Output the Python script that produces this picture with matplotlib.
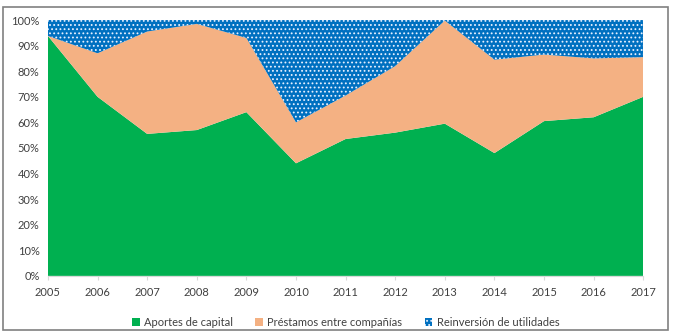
import matplotlib.pyplot as plt
import matplotlib.ticker as mticker
from matplotlib.patches import Rectangle
import numpy as np

# ── Data (share of total, %) ────────────────────────────────────────────────
years = [2005, 2006, 2007, 2008, 2009, 2010, 2011, 2012, 2013, 2014, 2015, 2016, 2017]
aportes = [93.8, 70.0, 55.5, 57.0, 64.0, 44.0, 53.5, 56.0, 59.5, 48.0, 60.5, 62.0, 70.0]
prestamos = [0.0, 17.0, 40.0, 41.5, 29.0, 16.0, 17.0, 26.0, 40.3, 36.5, 26.0, 23.0, 15.5]
reinversion = [6.2, 13.0, 4.5, 1.5, 7.0, 40.0, 29.5, 18.0, 0.2, 15.5, 13.5, 15.0, 14.5]

labels = ["Aportes de capital", "Préstamos entre compañías", "Reinversión de utilidades"]
COLORS = ["#00B050", "#F4B183", "#0070C0"]

plt.rcParams.update({"font.family": ["Lato", "DejaVu Sans"], "font.size": 8,
                     "hatch.linewidth": 0.8})

fig = plt.figure(figsize=(6.75, 3.34), dpi=100)
ax = fig.add_axes([0.071, 0.174, 0.882, 0.766])

base = np.zeros(len(years))
for i, (vals, lab, col) in enumerate(zip([aportes, prestamos, reinversion], labels, COLORS)):
    top = base + np.array(vals)
    if i == 2:
        ax.fill_between(years, base, top, facecolor=col, edgecolor="#E8F0FF",
                        hatch="....", linewidth=0, label=lab)
    else:
        ax.fill_between(years, base, top, facecolor=col, linewidth=0, label=lab)
    base = top

ax.set_xlim(2005, 2017)
ax.set_ylim(0, 100)
ax.set_xticks(years)
ax.set_yticks(range(0, 101, 10))
ax.yaxis.set_major_formatter(mticker.FuncFormatter(lambda v, _: f"{v:.0f}%"))
for s in ["top", "right", "left"]:
    ax.spines[s].set_visible(False)
ax.spines["bottom"].set_color("#D9D9D9")
ax.tick_params(axis="y", length=0, pad=6, colors="#404040")
ax.tick_params(axis="x", length=3, color="#D9D9D9", pad=5, colors="#404040")

ax.legend(loc="upper center", bbox_to_anchor=(0.5, -0.12), ncol=3, frameon=False,
          handlelength=0.7, handleheight=0.7, columnspacing=2.0, handletextpad=0.4,
          labelcolor="#404040")

fig.patches.append(Rectangle((0.005, 0.012), 0.984, 0.968, transform=fig.transFigure,
                             fill=False, edgecolor="#808080", linewidth=1.2))

fig.savefig("out.png", dpi=100)
